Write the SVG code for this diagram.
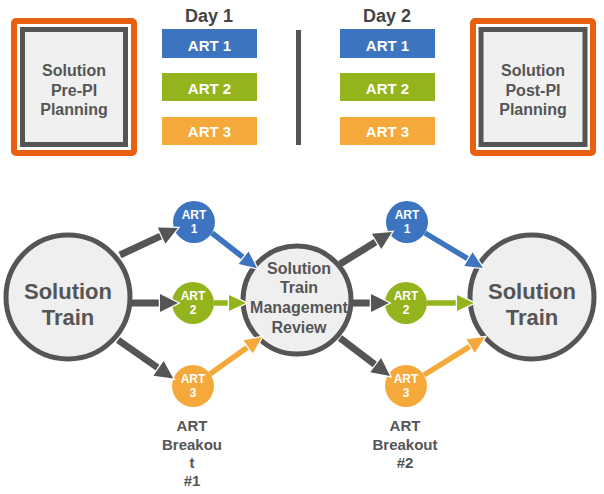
<svg xmlns="http://www.w3.org/2000/svg" width="604" height="494" viewBox="0 0 604 494">
<style>
text{font-family:"Liberation Sans",Arial,sans-serif;font-weight:bold;text-anchor:middle}
.frame{fill:none;stroke:#e8600f;stroke-width:6}
.box{fill:#f0f0f0;stroke:#555;stroke-width:5}
.boxt{font-size:16px;fill:#555}
.day{font-size:18px;fill:#444}
.bar{font-size:15px;fill:#fff}
.big{fill:#efefef;stroke:#555;stroke-width:5}
.bigt{font-size:22px;fill:#555}
.midt{font-size:16px;fill:#555}
.art{stroke:none}
.artt{font-size:12px;fill:#fff}
.lbl{font-size:15px;fill:#555}
.g{stroke:#555;stroke-width:7;fill:none}
.c{stroke-width:5.5;fill:none}
</style>
<defs>
<marker id="hg" markerUnits="userSpaceOnUse" orient="auto" refX="0" refY="0" markerWidth="30" markerHeight="30" overflow="visible"><path d="M-3,-9 L15,0 L-3,9 z" fill="#555" stroke="#fff" stroke-width="2.5" paint-order="stroke"/></marker>
<marker id="hb" markerUnits="userSpaceOnUse" orient="auto" refX="0" refY="0" markerWidth="30" markerHeight="30" overflow="visible"><path d="M-3,-8 L14,0 L-3,8 z" fill="#3c74c0" stroke="#fff" stroke-width="2.5" paint-order="stroke"/></marker>
<marker id="hn" markerUnits="userSpaceOnUse" orient="auto" refX="0" refY="0" markerWidth="30" markerHeight="30" overflow="visible"><path d="M-3,-8 L14,0 L-3,8 z" fill="#94b41e" stroke="#fff" stroke-width="2.5" paint-order="stroke"/></marker>
<marker id="ho" markerUnits="userSpaceOnUse" orient="auto" refX="0" refY="0" markerWidth="30" markerHeight="30" overflow="visible"><path d="M-3,-8 L14,0 L-3,8 z" fill="#f6a93b" stroke="#fff" stroke-width="2.5" paint-order="stroke"/></marker>
</defs>
<rect width="604" height="494" fill="#fff"/>

<g id="pre-pi">
<rect class="frame" x="14" y="21" width="120" height="132" rx="2"/>
<rect class="box" x="22.5" y="29.5" width="103" height="115"/>
<text class="boxt" x="74" y="76">Solution</text>
<text class="boxt" x="74" y="96">Pre-PI</text>
<text class="boxt" x="74" y="115">Planning</text>
</g>

<g id="day1">
<text class="day" x="209" y="22">Day 1</text>
<rect x="162" y="29" width="95" height="29" fill="#3c74c0"/>
<text class="bar" x="209.5" y="51">ART 1</text>
<rect x="162" y="73" width="95" height="28" fill="#94b41e"/>
<text class="bar" x="209.5" y="94">ART 2</text>
<rect x="162" y="117" width="95" height="28" fill="#f6a93b"/>
<text class="bar" x="209.5" y="137">ART 3</text>
</g>

<g id="divider"><rect x="296" y="30" width="5" height="115" fill="#555"/></g>

<g id="day2">
<text class="day" x="387" y="22">Day 2</text>
<rect x="340" y="29" width="95" height="29" fill="#3c74c0"/>
<text class="bar" x="387.5" y="51">ART 1</text>
<rect x="340" y="73" width="95" height="28" fill="#94b41e"/>
<text class="bar" x="387.5" y="94">ART 2</text>
<rect x="340" y="117" width="95" height="28" fill="#f6a93b"/>
<text class="bar" x="387.5" y="137">ART 3</text>
</g>

<g id="post-pi">
<rect class="frame" x="473" y="21" width="120" height="132" rx="2"/>
<rect class="box" x="481" y="29.5" width="104" height="115"/>
<text class="boxt" x="533" y="76">Solution</text>
<text class="boxt" x="533" y="96">Post-PI</text>
<text class="boxt" x="533" y="115">Planning</text>
</g>

<g id="train-left">
<circle class="big" cx="68" cy="297" r="62"/>
<text class="bigt" x="68" y="299">Solution</text>
<text class="bigt" x="68" y="325">Train</text>
</g>

<g id="review">
<circle class="big" cx="297" cy="300" r="54"/>
<text class="midt" x="299" y="274">Solution</text>
<text class="midt" x="299" y="293">Train</text>
<text class="midt" x="299" y="313">Management</text>
<text class="midt" x="299" y="333">Review</text>
</g>

<g id="train-right">
<circle class="big" cx="532" cy="297" r="62"/>
<text class="bigt" x="532" y="299">Solution</text>
<text class="bigt" x="532" y="325">Train</text>
</g>

<g id="a1-1"><circle class="art" cx="194" cy="222" r="21" fill="#3c74c0"/><text class="artt" x="194" y="219">ART</text><text class="artt" x="194" y="233">1</text></g>
<g id="a1-2"><circle class="art" cx="193" cy="303" r="21" fill="#94b41e"/><text class="artt" x="193" y="300">ART</text><text class="artt" x="193" y="314">2</text></g>
<g id="a1-3"><circle class="art" cx="193" cy="386" r="21" fill="#f6a93b"/><text class="artt" x="193" y="383">ART</text><text class="artt" x="193" y="397">3</text></g>
<g id="a2-1"><circle class="art" cx="407" cy="222" r="21" fill="#3c74c0"/><text class="artt" x="407" y="219">ART</text><text class="artt" x="407" y="233">1</text></g>
<g id="a2-2"><circle class="art" cx="406" cy="303" r="21" fill="#94b41e"/><text class="artt" x="406" y="300">ART</text><text class="artt" x="406" y="314">2</text></g>
<g id="a2-3"><circle class="art" cx="406" cy="386" r="21" fill="#f6a93b"/><text class="artt" x="406" y="383">ART</text><text class="artt" x="406" y="397">3</text></g>

<g id="breakout1">
<text class="lbl" x="192" y="431">ART</text>
<text class="lbl" x="192" y="450">Breakou</text>
<text class="lbl" x="192" y="468">t</text>
<text class="lbl" x="192" y="486">#1</text>
</g>
<g id="breakout2">
<text class="lbl" x="405" y="431">ART</text>
<text class="lbl" x="405" y="450">Breakout</text>
<text class="lbl" x="405" y="468">#2</text>
</g>

<g id="connectors">
<line class="g" x1="120" y1="255" x2="164.3" y2="234.3" marker-end="url(#hg)"/>
<line class="g" x1="130" y1="303" x2="163" y2="303" marker-end="url(#hg)"/>
<line class="g" x1="118" y1="340" x2="161" y2="370" marker-end="url(#hg)"/>
<line class="c" stroke="#3c74c0" x1="212" y1="233" x2="246" y2="259.6" marker-end="url(#hb)"/>
<line class="c" stroke="#94b41e" x1="214" y1="303" x2="232" y2="303" marker-end="url(#hn)"/>
<line class="c" stroke="#f6a93b" x1="210" y1="374" x2="250.6" y2="345.1" marker-end="url(#ho)"/>
<line class="g" x1="340" y1="264" x2="379.2" y2="239.8" marker-end="url(#hg)"/>
<line class="g" x1="350" y1="303" x2="374" y2="303" marker-end="url(#hg)"/>
<line class="g" x1="340" y1="338" x2="378.1" y2="367" marker-end="url(#hg)"/>
<line class="c" stroke="#3c74c0" x1="425" y1="233" x2="471" y2="260.7" marker-end="url(#hb)"/>
<line class="c" stroke="#94b41e" x1="427" y1="303" x2="460" y2="303" marker-end="url(#hn)"/>
<line class="c" stroke="#f6a93b" x1="424" y1="375" x2="473.1" y2="344.4" marker-end="url(#ho)"/>
</g>
</svg>
